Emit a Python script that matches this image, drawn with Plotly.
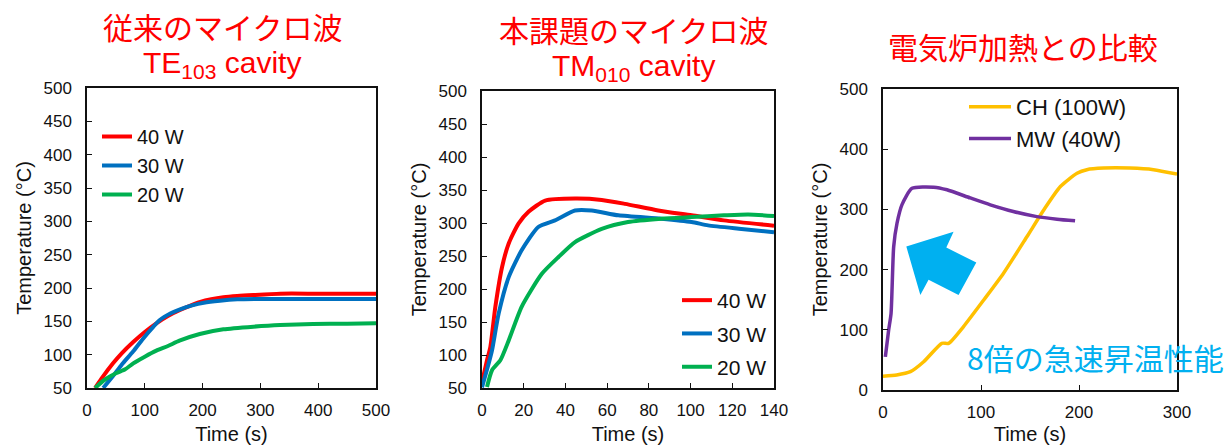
import plotly.graph_objects as go

# ---------------- data ----------------
# Panel 1: conventional TE103 cavity (x: 0-500 s)
te_40w_t = [14, 25, 45, 60, 80, 100, 120, 140, 161, 180, 196, 215, 236, 260, 288, 334, 400, 500]
te_40w_T = [50, 64, 87, 102, 119, 134, 147, 158, 167, 174, 179, 183, 186, 188, 189.5, 191.5, 191.5, 191.5]
te_30w_t = [28, 45, 60, 80, 97, 115, 126, 145, 161, 182, 202, 230, 260, 290, 400, 500]
te_30w_T = [50, 68, 85, 105, 124, 142, 152, 162, 168, 174, 178, 181, 183, 183.5, 183.5, 183.5]
te_20w_t = [14, 30, 50, 66, 80, 100, 120, 140, 160, 195, 236, 288, 334, 391, 450, 500]
te_20w_T = [50, 62, 72, 78, 87, 97, 106, 113, 121, 131, 138, 142, 144.5, 146, 146.5, 147]

# Panel 2: TM010 cavity (x: 0-140 s)
tm_40w_t = [0, 2.4, 4, 6.4, 9.6, 12.8, 17.5, 22.3, 30.3, 44.6, 57.4, 68.6, 84.5, 100.5, 116, 140]
tm_40w_T = [59, 92, 112, 173, 233, 269, 299, 317, 334, 337, 335, 329, 319, 311.6, 304, 296]
tm_30w_t = [0, 3.2, 4.8, 8, 12.8, 19, 27, 35, 44.6, 52.6, 65.4, 86, 100.5, 108.4, 124.4, 140]
tm_30w_T = [51, 87, 107, 163, 218, 258.6, 294, 304, 319, 319, 311.6, 306.5, 301.5, 296.4, 291, 286]
tm_20w_t = [2.4, 4.8, 8.8, 12.8, 19, 28.7, 36.7, 44.6, 57.4, 70, 86, 100.5, 116, 127.6, 140]
tm_20w_T = [51.5, 77, 92, 122, 173, 223, 248.5, 271, 291, 301.5, 306.5, 309, 311.6, 313, 310.6]

# Panel 3: comparison with electric furnace (x: 0-300 s)
ch_t = [0, 14, 28, 41.5, 60, 67, 82, 103, 123, 147, 164, 181, 198, 208, 225, 252, 276, 300]
ch_T = [23, 25, 30.5, 47, 77.6, 77.6, 105, 150, 194, 255, 299, 338, 360, 366, 368.6, 368.6, 366, 358.6]
mw_t = [2.4, 5.8, 8.2, 10.9, 14.3, 19.4, 29.6, 51.7, 65.3, 89, 109.5, 133, 157, 177.6, 196]
mw_T = [55, 100, 127, 238, 277, 308, 335, 337, 332.6, 319, 307.6, 296.5, 288, 283.8, 281]

# Arrow (block arrow) outline in panel-3 data units
arrow_t = [23.8, 72, 64.6, 95.2, 77.1, 46.5, 38.1]
arrow_T = [238.3, 263, 236.6, 211.7, 158, 183, 158]

# ---------------- styling ----------------
W, H = 1228, 445
FONT = "Arial, 'Liberation Sans', 'Noto Sans CJK JP', sans-serif"
RED, BLUE, GREEN = "#FF0000", "#0070C0", "#00B050"
YELLOW, PURPLE, CYAN = "#FFC000", "#7030A0", "#00B0F0"

def px_x(p):
    return p / W

def px_y(p):
    return 1 - p / H

fig = go.Figure()

def add(t, T, name, color, xa, ya, leg, width=4):
    fig.add_trace(go.Scatter(x=t, y=T, name=name, mode="lines",
                             line=dict(color=color, width=width, shape="spline", smoothing=0.6),
                             xaxis=xa, yaxis=ya, legend=leg, legendgroup=name + leg))

add(te_40w_t, te_40w_T, "40 W", RED, "x", "y", "legend")
add(te_30w_t, te_30w_T, "30 W", BLUE, "x", "y", "legend")
add(te_20w_t, te_20w_T, "20 W", GREEN, "x", "y", "legend")
add(tm_40w_t, tm_40w_T, "40 W", RED, "x2", "y2", "legend2")
add(tm_30w_t, tm_30w_T, "30 W", BLUE, "x2", "y2", "legend2")
add(tm_20w_t, tm_20w_T, "20 W", GREEN, "x2", "y2", "legend2")
add(ch_t, ch_T, "CH (100W)", YELLOW, "x3", "y3", "legend3", width=3.5)
add(mw_t, mw_T, "MW (40W)", PURPLE, "x3", "y3", "legend3", width=3.5)

axis_common = dict(showline=True, mirror=True, linecolor="#111", linewidth=1.5,
                   ticks="inside", ticklen=5, tickcolor="#111", tickwidth=1.2,
                   showgrid=False, zeroline=False,
                   automargin=False,
                   tickfont=dict(family=FONT, size=17, color="#111"),
                   title_font=dict(family=FONT, size=20, color="#111"))
xcommon = dict(axis_common, ticklabelstandoff=6)
ycommon = dict(axis_common, ticklabelstandoff=10)

fig.update_layout(
    width=W, height=H, margin=dict(l=0, r=0, t=0, b=0, autoexpand=False),
    paper_bgcolor="white", plot_bgcolor="white",
    font=dict(family=FONT, color="#111"),
    xaxis=dict(domain=[px_x(87), px_x(376)], range=[0, 500], dtick=100, anchor="y",
               title=dict(text="Time (s)", standoff=10), **xcommon),
    yaxis=dict(domain=[px_y(388), px_y(88)], range=[50, 500], dtick=50, anchor="x",
               title=dict(text="Temperature (°C)", standoff=6), **ycommon),
    xaxis2=dict(domain=[px_x(482), px_x(774)], range=[0, 140], dtick=20, anchor="y2",
                title=dict(text="Time (s)", standoff=10), **xcommon),
    yaxis2=dict(domain=[px_y(388), px_y(91)], range=[50, 500], dtick=50, anchor="x2",
                title=dict(text="Temperature (°C)", standoff=6), **ycommon),
    xaxis3=dict(domain=[px_x(883), px_x(1177)], range=[0, 300], dtick=100, anchor="y3",
                title=dict(text="Time (s)", standoff=10), **xcommon),
    yaxis3=dict(domain=[px_y(390), px_y(89)], range=[0, 500], dtick=100, anchor="x3",
                title=dict(text="Temperature (°C)", standoff=6), **ycommon),
    legend=dict(x=px_x(97), y=px_y(117), xanchor="left", yanchor="top",
                bgcolor="rgba(0,0,0,0)", font=dict(family=FONT, size=20, color="#111"),
                tracegroupgap=0),
    legend2=dict(x=px_x(677), y=px_y(280), xanchor="left", yanchor="top",
                 bgcolor="rgba(0,0,0,0)", font=dict(family=FONT, size=21, color="#111"),
                 tracegroupgap=3),
    legend3=dict(x=px_x(964), y=px_y(86), xanchor="left", yanchor="top",
                 bgcolor="rgba(0,0,0,0)", font=dict(family=FONT, size=22, color="#111"),
                 tracegroupgap=0, itemwidth=42),
    showlegend=True,
)

# block arrow
path = "M " + " L ".join(f"{a},{b}" for a, b in zip(arrow_t, arrow_T)) + " Z"
fig.add_shape(type="path", path=path, xref="x3", yref="y3",
              fillcolor=CYAN, line=dict(width=0), layer="below")

title_font = dict(family="'Noto Sans CJK JP', Arial, sans-serif", size=30, color=RED)
sub_font = dict(family=FONT, size=30, color=RED)
annots = [
    dict(text="従来のマイクロ波", x=px_x(222), y=px_y(26), font=title_font),
    dict(text="TE<sub>103</sub> cavity", x=px_x(222), y=px_y(64), font=sub_font),
    dict(text="本課題のマイクロ波", x=px_x(633), y=px_y(29), font=title_font),
    dict(text="TM<sub>010</sub> cavity", x=px_x(633), y=px_y(67), font=sub_font),
    dict(text="電気炉加熱との比較", x=px_x(1023), y=px_y(46), font=title_font),
]
for a in annots:
    fig.add_annotation(xref="paper", yref="paper", showarrow=False,
                       xanchor="center", yanchor="middle", **a)

fig.add_annotation(text="8倍の急速昇温性能", x=84, y=55, xref="x3", yref="y3",
                   xanchor="left", yanchor="middle", showarrow=False,
                   font=dict(family="'Noto Sans CJK JP', sans-serif", size=30, color=CYAN))

fig.write_html("out.html")
